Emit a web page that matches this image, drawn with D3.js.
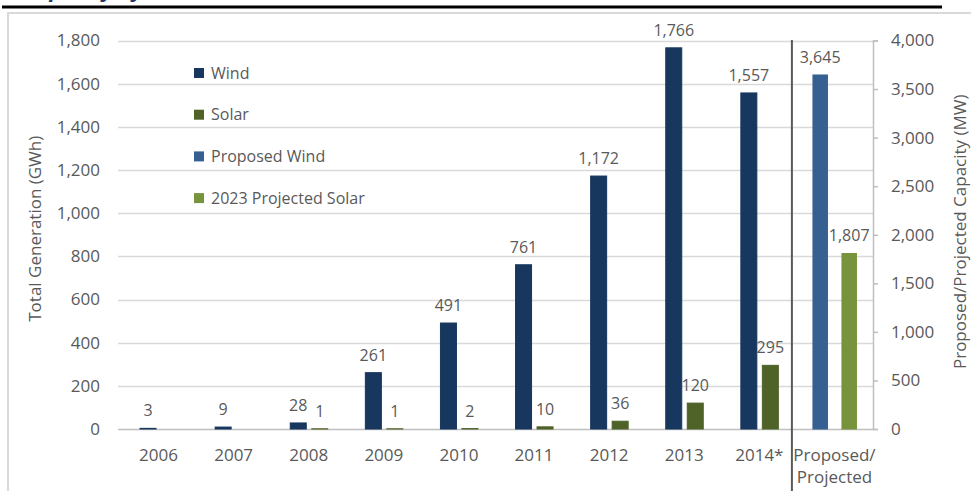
<!DOCTYPE html>
<html>
<head>
<meta charset="utf-8">
<script src="https://cdn.jsdelivr.net/npm/d3@7"></script>
<style>
  html, body { margin: 0; padding: 0; background: #fff; }
  svg { display: block; font-family: "Open Sans", sans-serif; }
</style>
</head>
<body>
<div id="chart"></div>
<script>
// ---- data ----
const categories = ["2006", "2007", "2008", "2009", "2010", "2011", "2012", "2013", "2014*", "Proposed/Projected"];
const years = ["2006", "2007", "2008", "2009", "2010", "2011", "2012", "2013", "2014*"];
const windGWh = [3, 9, 28, 261, 491, 761, 1172, 1766, 1557];
const solarGWh = [null, null, 1, 1, 2, 10, 36, 120, 295];
const proposedCategory = "Proposed/Projected";
const proposedWindMW = 3645;
const projectedSolarMW = 1807;
const leftTicks = [0, 200, 400, 600, 800, 1000, 1200, 1400, 1600, 1800];
const rightTicks = [0, 500, 1000, 1500, 2000, 2500, 3000, 3500, 4000];
const legendItems = ["Wind", "Solar", "Proposed Wind", "2023 Projected Solar"];
const colors = { "Wind": "#17375E", "Solar": "#4F6228", "Proposed Wind": "#376092", "2023 Projected Solar": "#77933C" };

const W = 971, H = 491;
const svg = d3.select("#chart").append("svg").attr("width", W).attr("height", H);

// clipped title fragment
svg.append("clipPath").attr("id", "topclip").append("rect").attr("x", 0).attr("y", 0).attr("width", W).attr("height", 4);
svg.append("text").attr("clip-path", "url(#topclip)")
  .attr("x", 23).attr("y", -3)
  .attr("font-size", 22).attr("font-weight", "bold").attr("font-style", "italic")
  .attr("fill", "#1F3864").text("Capacity by Year");

// top rule and frame
svg.append("line").attr("x1", 2).attr("x2", 942).attr("y1", 7).attr("y2", 7)
  .attr("stroke", "#000").attr("stroke-width", 3);
svg.append("rect").attr("x", 8).attr("y", 13).attr("width", 980).attr("height", 500)
  .attr("fill", "none").attr("stroke", "#D9D9D9").attr("stroke-width", 2);

// scales
const x = d3.scaleBand().domain(categories).range([121, 872]);
const yL = d3.scaleLinear().domain([0, 1800]).range([429, 40.5]);
const yR = d3.scaleLinear().domain([0, 4000]).range([429, 40.5]);
const xAxisRight = 873;
const gridLeft = 118;

// gridlines
svg.append("g").selectAll("line").data(leftTicks).join("line")
  .attr("x1", gridLeft).attr("x2", xAxisRight)
  .attr("y1", d => Math.round(yL(d)) + 0.5).attr("y2", d => Math.round(yL(d)) + 0.5)
  .attr("stroke", d => d === 0 ? "#BFBFBF" : "#D9D9D9").attr("stroke-width", 1.5);

// left tick labels
svg.append("g").selectAll("text").data(leftTicks).join("text")
  .attr("x", 100).attr("y", d => yL(d)).attr("dy", "0.35em")
  .attr("text-anchor", "end").attr("font-size", 17).attr("fill", "#595959")
  .text(d => d3.format(",")(d));

// right axis
const rAxis = d3.axisRight(yR).tickValues(rightTicks).tickSize(5).tickPadding(13).tickFormat(d3.format(","));
const rg = svg.append("g").attr("transform", `translate(${xAxisRight},0)`).call(rAxis);
rg.select(".domain").attr("stroke", "#BFBFBF").attr("stroke-width", 1.5);
rg.selectAll(".tick line").attr("stroke", "#BFBFBF").attr("stroke-width", 1.5);
rg.selectAll(".tick text").attr("font-size", 17).attr("fill", "#595959").attr("font-family", "Open Sans, sans-serif");

// axis titles
svg.append("text").attr("transform", `translate(41,${(yL(0) + yL(1800)) / 2 - 6}) rotate(-90)`)
  .attr("text-anchor", "middle").attr("font-size", 17).attr("fill", "#595959")
  .text("Total Generation (GWh)");
svg.append("text").attr("transform", `translate(966,${(yR(0) + yR(4000)) / 2 - 3}) rotate(-90)`)
  .attr("text-anchor", "middle").attr("font-size", 17).attr("fill", "#595959")
  .text("Proposed/Projected Capacity (MW)");

// bars: historical
const bw = x.bandwidth();
const barW = 16;
const hist = years.map((yr, i) => ({ yr, wind: windGWh[i], solar: solarGWh[i] }));
const cx = yr => x(yr) + bw / 2;

const gBars = svg.append("g");
gBars.selectAll("rect.wind").data(hist).join("rect").attr("class", "wind")
  .attr("x", d => cx(d.yr) - 18.5).attr("width", barW)
  .attr("y", d => yL(d.wind)).attr("height", d => yL(0) - yL(d.wind))
  .attr("fill", colors["Wind"]).attr("stroke", colors["Wind"]).attr("stroke-width", 1);
gBars.selectAll("rect.solar").data(hist.filter(d => d.solar != null)).join("rect").attr("class", "solar")
  .attr("x", d => cx(d.yr) + 3).attr("width", barW)
  .attr("y", d => yL(d.solar)).attr("height", d => yL(0) - yL(d.solar))
  .attr("fill", colors["Solar"]).attr("stroke", colors["Solar"]).attr("stroke-width", 1);

// proposed / projected bars on right axis
const pc = cx(proposedCategory);
const prop = [
  { key: "Proposed Wind", v: proposedWindMW, x0: pc - 21.5 },
  { key: "2023 Projected Solar", v: projectedSolarMW, x0: pc + 7.5 }
];
gBars.selectAll("rect.prop").data(prop).join("rect").attr("class", "prop")
  .attr("x", d => d.x0).attr("width", 14.5)
  .attr("y", d => yR(d.v)).attr("height", d => yR(0) - yR(d.v))
  .attr("fill", d => colors[d.key]).attr("stroke", d => colors[d.key]).attr("stroke-width", 1);

// data labels
const fmt = d3.format(",");
const gLab = svg.append("g").attr("font-size", 16).attr("fill", "#595959").attr("text-anchor", "middle");
gLab.selectAll("text.w").data(hist).join("text").attr("class", "w")
  .attr("x", d => cx(d.yr) - 10.5).attr("y", d => yL(d.wind) - 12)
  .text(d => fmt(d.wind));
gLab.selectAll("text.s").data(hist.filter(d => d.solar != null)).join("text").attr("class", "s")
  .attr("x", d => cx(d.yr) + 11).attr("y", d => yL(d.solar) - 12)
  .text(d => fmt(d.solar));
gLab.selectAll("text.p").data(prop).join("text").attr("class", "p")
  .attr("x", d => d.x0 + 7.25).attr("y", d => yR(d.v) - 12)
  .text(d => fmt(d.v));

// separator
svg.append("line").attr("x1", x(proposedCategory) - 5).attr("x2", x(proposedCategory) - 5)
  .attr("y1", 40).attr("y2", H).attr("stroke", "#595959").attr("stroke-width", 2);

// category labels
const gCat = svg.append("g").attr("font-size", 17).attr("fill", "#595959").attr("text-anchor", "middle");
gCat.selectAll("text").data(categories).join("text")
  .attr("x", d => cx(d)).attr("y", 461)
  .each(function (d) {
    const parts = d === proposedCategory ? ["Proposed/", "Projected"] : [d];
    d3.select(this).selectAll("tspan").data(parts).join("tspan")
      .attr("x", cx(d)).attr("dy", (p, i) => i === 0 ? 0 : 22).text(p => p);
  });

// legend
const gLeg = svg.append("g");
legendItems.forEach((k, i) => {
  const yy = 73 + i * 41.7;
  gLeg.append("rect").attr("x", 194).attr("y", yy - 5).attr("width", 10).attr("height", 10).attr("fill", colors[k]);
  gLeg.append("text").attr("x", 211).attr("y", yy).attr("dy", "0.35em")
    .attr("font-size", 16).attr("fill", "#595959").text(k);
});
</script>
</body>
</html>
